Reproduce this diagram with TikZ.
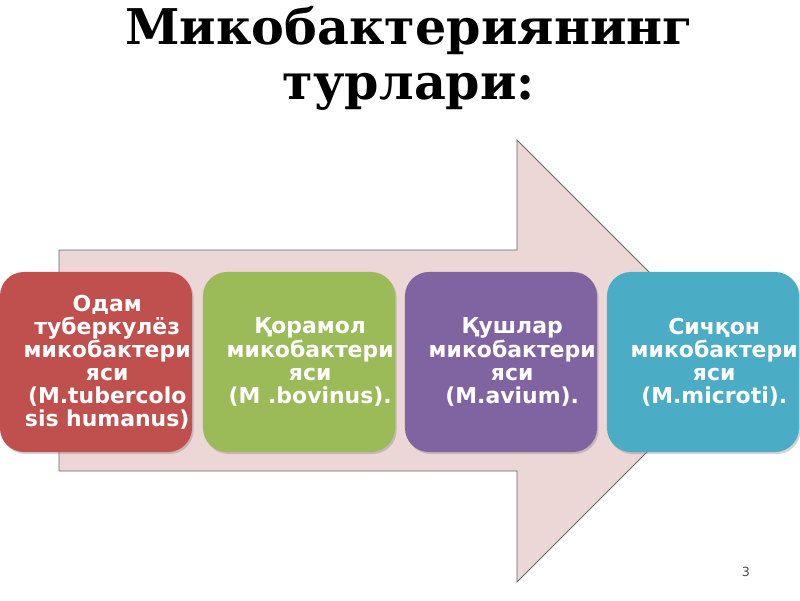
\documentclass[tikz,border=0pt]{standalone}
\usepackage{fontspec}
\setmainfont{DejaVu Serif}
\setsansfont{DejaVu Sans}
\usepackage{tikz}
\usetikzlibrary{shadows}

\definecolor{redBox}{HTML}{C0504D}
\definecolor{greenBox}{HTML}{9BBB59}
\definecolor{purpleBox}{HTML}{8064A2}
\definecolor{aquaBox}{HTML}{4BACC6}
\definecolor{arrowFill}{HTML}{EDD6D6}

\begin{document}
\begin{tikzpicture}[x=0.025cm,y=0.025cm]
               \tikzstyle{myBox}=[rounded corners=0.6cm, minimum width=4.8cm, minimum height=4.5cm,
                  drop shadow={opacity=0.35, shadow xshift=0.04cm, shadow yshift=-0.05cm}]
               \tikzstyle{myText}=[align=center, text=white, xshift=0.28cm,
                  font=\sffamily\bfseries\fontsize{15.6}{16.4}\selectfont]

               \useasboundingbox (0,0) rectangle (800,600);

               % title
               \node[font=\bfseries\fontsize{35}{39}\selectfont, align=center] (title) at (409,542)
                  {Микобактериянинг\\турлари:};

               % big arrow behind the boxes
               \draw[fill=arrowFill, draw=black!60, line width=0.6pt]
                  (59,350) -- (517,350) -- (517,460) -- (738,239) -- (517,18) -- (517,129) -- (59,129) -- cycle;

               \node[myBox, fill=redBox] (1) at (96,238) {};
               \node[myBox, fill=greenBox] (2) at (299,238) {};
               \node[myBox, fill=purpleBox] (3) at (501,238) {};
               \node[myBox, fill=aquaBox] (4) at (703,238) {};

               \node[myText] (1t) at (1.center) {Одам\\туберкулёз\\микобактери\\яси\\(M.tubercolo\\sis humanus)};
               \node[myText] (2t) at (2.center) {Қорамол\\микобактери\\яси\\(M .bovinus).};
               \node[myText] (3t) at (3.center) {Қушлар\\микобактери\\яси\\(M.avium).};
               \node[myText] (4t) at (4.center) {Сичқон\\микобактери\\яси\\(M.microti).};

               \node[font=\sffamily\fontsize{9}{10}\selectfont, text=black!70] (page) at (746,28) {3};
            \end{tikzpicture}
\end{document}
